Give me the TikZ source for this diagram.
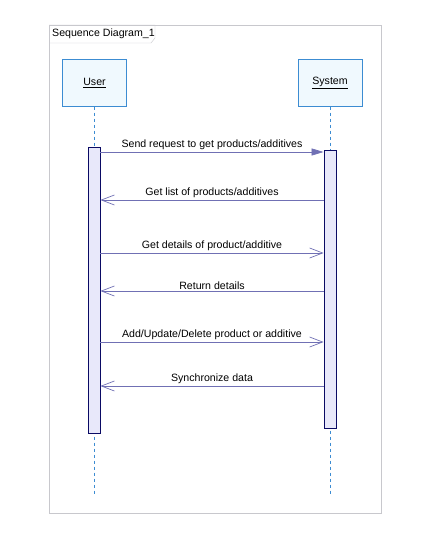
\documentclass[tikz,border=0pt]{standalone}
\usepackage{fontspec}
\setmainfont{Liberation Sans}
\usepackage{tikz}
\usetikzlibrary{arrows.meta}
\usepackage{xcolor}
\definecolor{framegray}{RGB}{200,200,205}
\definecolor{objline}{RGB}{60,140,210}
\definecolor{objfill}{RGB}{240,249,254}
\definecolor{actline}{RGB}{10,10,100}
\definecolor{actfill}{RGB}{232,232,250}
\definecolor{msgline}{RGB}{112,112,180}

\tikzset{
  objbox/.style={draw=objline,fill=objfill,minimum width=64pt,minimum height=47pt,inner sep=0pt},
  actbar/.style={draw=actline,fill=actfill,minimum width=12pt,inner sep=0pt,line width=0.8pt},
  lifeline/.style={draw=objline,dash pattern=on 3pt off 3pt,line width=0.7pt},
  call/.style={draw=msgline,line width=0.7pt,-{Triangle[length=12pt,width=7pt]}},
  answer/.style={draw=msgline,line width=0.7pt,-{Straight Barb[length=13pt,width=10pt]}},
  msg/.style={midway,above=0.5pt,inner sep=1pt,text=black}
}

\begin{document}
\begin{tikzpicture}[x=1pt,y=-1pt,font=\fontsize{10.6}{12}\selectfont]
			\useasboundingbox (0,0) rectangle (431,553);
			% frame
			\draw[framegray] (49,25) rectangle (381,513);
			\draw[framegray] (49,25) -- (155,25) -- (155,38) -- (151,43) -- (49,43);
			\node[anchor=west,inner sep=0pt] (title) at (52,34) {Sequence Diagram\_1};
			% objects
			\node[objbox] (user) at (94.5,83) {\underline{User}};
			\node[objbox] (system) at (330,83) {\underline{System}};
			\coordinate (uend) at (94,494);
			\coordinate (send) at (330,494);
			\draw[lifeline] (user.south -| uend) -- (uend);
			\draw[lifeline] (system.south -| send) -- (send);
			\node[actbar,minimum height=286pt] (uact) at (94,290) {};
			\node[actbar,minimum height=278pt] (sact) at (330,289) {};
			% messages
			\coordinate (m1) at (0,152);
			\coordinate (m2) at (0,200);
			\coordinate (m3) at (0,253);
			\coordinate (m4) at (0,291);
			\coordinate (m5) at (0,342);
			\coordinate (m6) at (0,386);
			\draw[call] (uact.east |- m1) -- node[msg] {Send request to get products/additives} (sact.west |- m1);
			\draw[answer] (sact.west |- m2) -- node[msg] {Get list of products/additives} (uact.east |- m2);
			\draw[answer] (uact.east |- m3) -- node[msg] {Get details of product/additive} (sact.west |- m3);
			\draw[answer] (sact.west |- m4) -- node[msg] {Return details} (uact.east |- m4);
			\draw[answer] (uact.east |- m5) -- node[msg] {Add/Update/Delete product or additive} (sact.west |- m5);
			\draw[answer] (sact.west |- m6) -- node[msg] {Synchronize data} (uact.east |- m6);
		\end{tikzpicture}
\end{document}
